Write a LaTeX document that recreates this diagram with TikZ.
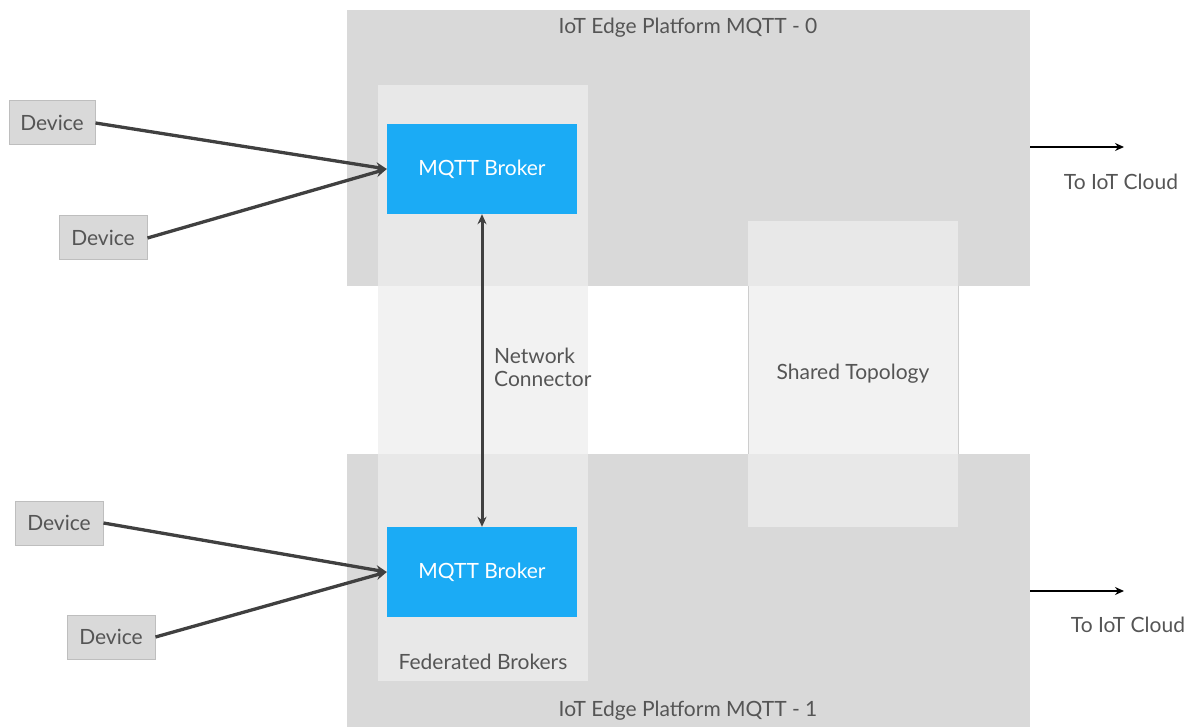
\documentclass[tikz,border=0pt]{standalone}
\usepackage{fontspec}
\setmainfont{Lato}
\usetikzlibrary{arrows.meta}
\definecolor{platgray}{RGB}{217,217,217}
\definecolor{overlay}{RGB}{238,238,238}
\definecolor{brokerblue}{RGB}{27,171,245}
\definecolor{txtgray}{RGB}{85,85,85}
\definecolor{arrowgray}{RGB}{64,64,64}
\tikzset{
  platform/.style={fill=platgray, draw=none},
  group/.style={fill=overlay, fill opacity=0.76, draw=none},
  broker/.style={fill=brokerblue, draw=none, text=white, font=\fontsize{21}{25}\selectfont},
  device/.style={fill=platgray, draw={rgb,255:red,190;green,190;blue,190}, line width=1pt, text=txtgray, font=\fontsize{21}{25}\selectfont},
  lbl/.style={text=txtgray, font=\fontsize{21}{23}\selectfont, inner sep=0pt},
  devarrow/.style={draw=arrowgray, line width=3.3pt, -{Stealth[length=11pt,width=10pt]}},
  netarrow/.style={draw=arrowgray, line width=3pt, {Stealth[length=10pt,width=9pt]}-{Stealth[length=10pt,width=9pt]}},
  cloudarrow/.style={draw=black, line width=1.8pt, -{Stealth[length=9pt,width=8pt]}}
}
\begin{document}
\begin{tikzpicture}[x=1pt,y=-1pt]
\useasboundingbox (0,0) rectangle (1189,727);
% platforms
\fill[platform] (347,10) rectangle (1030,286);
\fill[platform] (347,454) rectangle (1030,727);
% overlays
\fill[group] (378,85) rectangle (588,681);
\fill[group] (748,221) rectangle (958,527);
\draw[draw={rgb,255:red,205;green,205;blue,205}, line width=0.8pt] (748,286) -- (748,454) (958,286) -- (958,454);
% labels
\node[lbl] (p0) at (688,28) {IoT Edge Platform MQTT - 0};
\node[lbl] (p1) at (688,711) {IoT Edge Platform MQTT - 1};
\node[lbl] (fb) at (483,662) {Federated Brokers};
\node[lbl] (st) at (853,374) {Shared Topology};
\node[lbl, align=left, anchor=west] (nc) at (494,367) {Network\\Connector};
% brokers
\node[broker, minimum width=190pt, minimum height=90pt] (b0) at (482,169) {MQTT Broker};
\node[broker, minimum width=190pt, minimum height=90pt] (b1) at (482,572) {MQTT Broker};
% devices
\node[device, minimum width=86pt, minimum height=44pt] (d1) at (52,123) {Device};
\node[device, minimum width=88pt, minimum height=44pt] (d2) at (103,238) {Device};
\node[device, minimum width=88pt, minimum height=44pt] (d3) at (59,523) {Device};
\node[device, minimum width=88pt, minimum height=44pt] (d4) at (111,637) {Device};
% connectors
\draw[devarrow] (d1.east) -- (b0.west);
\draw[devarrow] (d2.east) -- (b0.west);
\draw[devarrow] (d3.east) -- (b1.west);
\draw[devarrow] (d4.east) -- (b1.west);
\draw[netarrow] (b0.south) -- (b1.north);
% to cloud
\coordinate (c0s) at (1030,147);
\coordinate (c0e) at (1124,147);
\coordinate (c1s) at (1030,591);
\coordinate (c1e) at (1124,591);
\draw[cloudarrow] (c0s) -- (c0e);
\draw[cloudarrow] (c1s) -- (c1e);
\node[lbl] (t0) at (1121,182) {To IoT Cloud};
\node[lbl] (t1) at (1128,625) {To IoT Cloud};
\end{tikzpicture}
\end{document}
